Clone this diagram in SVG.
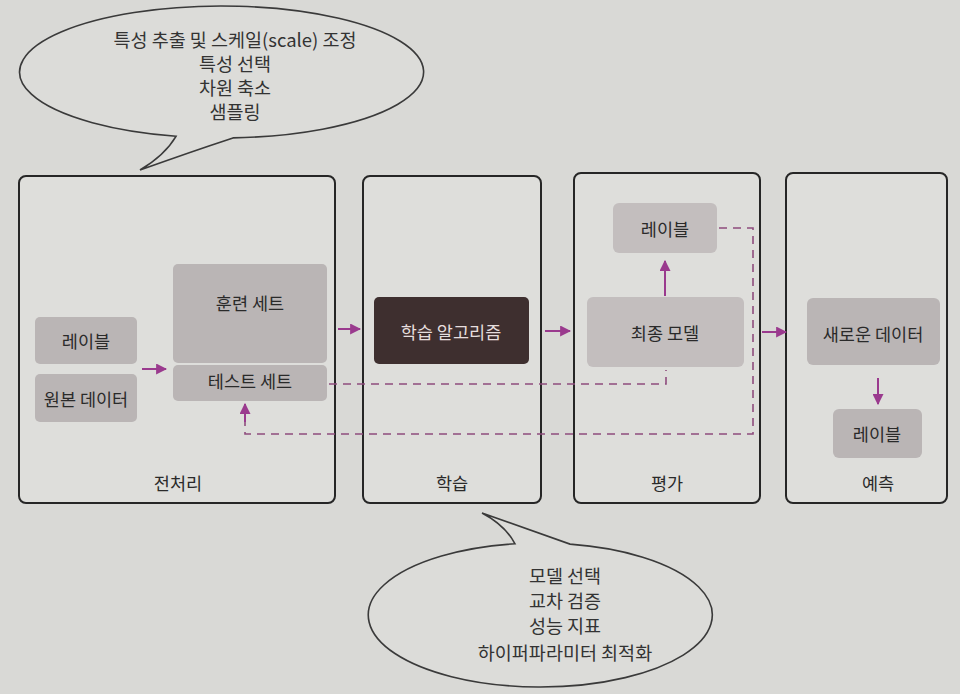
<svg xmlns="http://www.w3.org/2000/svg" width="960" height="694" viewBox="0 0 960 694">
<defs>
<style>
.bg{fill:#d9d9d6}
.frame{fill:#dededb;stroke:#262626;stroke-width:2}
.box{fill:#bab5b5}
.box2{fill:#c3bebe}
.dark{fill:#3e2f2f}
.t{font-family:"Noto Sans CJK KR","Noto Sans",sans-serif;font-size:17.5px;fill:#2a2a2a;text-anchor:middle;dominant-baseline:central}
.tw{fill:#e6dede}
.bt{font-family:"Noto Sans CJK KR","Noto Sans",sans-serif;font-size:18.5px;fill:#333;text-anchor:middle;dominant-baseline:central}
.bubble{fill:#dcdcd9;stroke:#3a3a3a;stroke-width:1.6}
.arr{stroke:#9a3a8e;stroke-width:2;fill:none}
.dash{stroke:#8e4c7e;stroke-width:1.6;fill:none;stroke-dasharray:8 6}
</style>
<marker id="ah" viewBox="0 0 10 10" refX="9" refY="5" markerWidth="5.5" markerHeight="5.5" orient="auto">
<path d="M0,0 L10,5 L0,10 z" fill="#9a3a8e"/>
</marker>
</defs>
<rect class="bg" x="0" y="0" width="960" height="694"/>

<g id="bubble-top">
<path class="bubble" d="M176,136.3 A202,66 0 1 1 233,137.9 Q190,152 140,170 Q165,155 176,136.3 Z"/>
<text class="bt" x="235" y="39">특성 추출 및 스케일(scale) 조정</text>
<text class="bt" x="235" y="63">특성 선택</text>
<text class="bt" x="235" y="87">차원 축소</text>
<text class="bt" x="235" y="111">샘플링</text>
</g>

<g id="stage-preprocess">
<rect class="frame" x="19" y="176" width="316" height="327" rx="7"/>
<text class="t" x="178" y="482">전처리</text>
</g>
<g id="stage-learning">
<rect class="frame" x="363" y="176" width="178" height="327" rx="7"/>
<text class="t" x="452" y="482">학습</text>
</g>
<g id="stage-eval">
<rect class="frame" x="574" y="173" width="186" height="330" rx="7"/>
<text class="t" x="667" y="482">평가</text>
</g>
<g id="stage-predict">
<rect class="frame" x="786" y="173" width="161" height="330" rx="7"/>
<text class="t" x="878" y="482">예측</text>
</g>

<g id="label1">
<rect class="box" x="35" y="317" width="102" height="47" rx="5"/>
<text class="t" x="86" y="340">레이블</text>
</g>
<g id="raw-data">
<rect class="box" x="35" y="374" width="102" height="48" rx="5"/>
<text class="t" x="86" y="398">원본 데이터</text>
</g>
<g id="train-set">
<rect class="box" x="173" y="264" width="154" height="99" rx="5"/>
<text class="t" x="250" y="302">훈련 세트</text>
</g>
<g id="test-set">
<rect class="box" x="173" y="365" width="154" height="36" rx="5"/>
<text class="t" x="250" y="380">테스트 세트</text>
</g>
<g id="algorithm">
<rect class="dark" x="374" y="297" width="155" height="67" rx="5"/>
<text class="t tw" x="451" y="331">학습 알고리즘</text>
</g>
<g id="label-eval">
<rect class="box2" x="613" y="203" width="104" height="50" rx="6"/>
<text class="t" x="665" y="228">레이블</text>
</g>
<g id="final-model">
<rect class="box2" x="587" y="297" width="157" height="70" rx="6"/>
<text class="t" x="665" y="332">최종 모델</text>
</g>
<g id="new-data">
<rect class="box" x="807" y="298" width="133" height="67" rx="6"/>
<text class="t" x="873" y="333">새로운 데이터</text>
</g>
<g id="label-predict">
<rect class="box" x="833" y="409" width="89" height="49" rx="6"/>
<text class="t" x="877" y="433">레이블</text>
</g>

<g id="connectors">
<line class="arr" x1="142" y1="369" x2="166" y2="369" marker-end="url(#ah)"/>
<line class="arr" x1="338" y1="329" x2="360" y2="329" marker-end="url(#ah)"/>
<line class="arr" x1="545" y1="331" x2="570" y2="331" marker-end="url(#ah)"/>
<line class="arr" x1="762" y1="332" x2="786" y2="332" marker-end="url(#ah)"/>
<line class="arr" x1="665" y1="296" x2="665" y2="261" marker-end="url(#ah)"/>
<line class="arr" x1="878" y1="378" x2="878" y2="404" marker-end="url(#ah)"/>
<polyline class="dash" points="329,384 666,384 666,370"/>
<polyline class="dash" points="719,228 753,228 753,434 245,434 245,420"/>
<line class="arr" x1="245" y1="422" x2="245" y2="404" marker-end="url(#ah)"/>
</g>

<g id="bubble-bottom">
<path class="bubble" d="M515,543.8 A172,72 0 1 0 570,544.1 Q530,530 482,513 Q505,525 515,543.8 Z"/>
<text class="bt" x="565" y="575">모델 선택</text>
<text class="bt" x="565" y="600">교차 검증</text>
<text class="bt" x="565" y="625">성능 지표</text>
<text class="bt" x="565" y="652">하이퍼파라미터 최적화</text>
</g>
</svg>
